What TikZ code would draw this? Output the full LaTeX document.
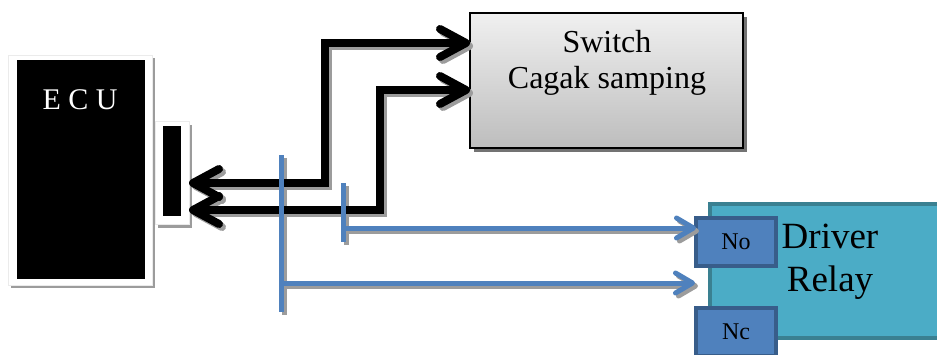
\documentclass[tikz,border=0pt]{standalone}
\usepackage{fontspec}
\setmainfont{Liberation Serif}
\usetikzlibrary{arrows.meta,shadows}
\definecolor{swtop}{HTML}{F0F0F0}
\definecolor{swbot}{HTML}{BDBDBD}
\definecolor{relayfill}{HTML}{4BACC6}
\definecolor{relayedge}{HTML}{3A8091}
\definecolor{nofill}{HTML}{4F81BD}
\definecolor{noedge}{HTML}{385D8A}
\definecolor{wire}{HTML}{4F81BD}
\definecolor{shadowc}{HTML}{9C9C9C}
\newcommand\wirelines{%
  \draw[blk, shcol] (connframe.east |- k2) -- (k2) -- (k1) -- (sw.west |- k1);
  \draw[blk, shcol] (connframe.east |- k4) -- (k4) -- (k3) -- (sw.west |- k3);
  \draw[blv, shcol] (v1t) -- (v1b);
  \draw[blv, shcol] (v2t) -- (v2b);
  \draw[bl, shcol] (h1) -- (no.west |- h1);
  \draw[bl, shcol] (h2) -- (h2e);
}
\begin{document}
\begin{tikzpicture}[x=1pt,y=-1pt,
  box/.style={rectangle, inner sep=0pt, outer sep=0pt},
  boxshadow/.style={drop shadow={shadow xshift=3pt, shadow yshift=-3pt, fill=shadowc, opacity=1}},
  shcol/.style={},
  blk/.style={line width=8pt, line join=miter, draw=black,
    {Straight Barb[length=26pt 0 0, width=28pt 0 0, round]}-{Straight Barb[length=26pt 0 0, width=28pt 0 0, round]}},
  bl/.style={line width=5pt, draw=wire,
    -{Straight Barb[length=17pt 0 0, width=20pt 0 0, round]}},
  blv/.style={line width=5pt, draw=wire},
]
\useasboundingbox (0,0) rectangle (937,354);
\clip (0,0) rectangle (937,354);

% ECU
\node[box, minimum width=144pt, minimum height=230pt, fill=white, draw=black!8, boxshadow] (ecuframe) at (80,170) {};
\node[box, minimum width=128pt, minimum height=219pt, fill=black] (ecu) at (80.5,169.5) {};
\node[font=\fontsize{30}{34}\selectfont, text=white, inner sep=0pt] (ecutext) at (80,100) {E C U};

% connector block
\node[box, minimum width=34pt, minimum height=103pt, fill=white, draw=black!8, boxshadow] (connframe) at (172,173) {};
\node[box, minimum width=18pt, minimum height=90pt, fill=black] (conn) at (172,171) {};

% Switch
\node[box, minimum width=273pt, minimum height=135pt, top color=swtop, bottom color=swbot, draw=black, line width=2pt,
  drop shadow={shadow xshift=4pt, shadow yshift=-4pt, fill=black!55, opacity=1}] (sw) at (606.5,80.5) {};
\node[font=\fontsize{32}{36.5}\selectfont, align=center, inner sep=0pt] (swtext) at (607,63) {Switch\\Cagak samping};

% Driver relay
\node[box, minimum width=232pt, minimum height=134pt, fill=relayfill, draw=relayedge, line width=4pt] (relay) at (826,271) {};
\node[font=\fontsize{37}{43}\selectfont, align=center, inner sep=0pt] (relaytext) at (830,262) {Driver\\Relay};
\node[box, minimum width=80pt, minimum height=48pt, fill=nofill, draw=noedge, line width=4pt, font=\fontsize{24}{28}\selectfont] (no) at (736,242) {No};
\node[box, minimum width=80pt, minimum height=48pt, fill=nofill, draw=noedge, line width=4pt, font=\fontsize{24}{28}\selectfont] (nc) at (736,332) {Nc};

% connector points
\coordinate (k1) at (325,43);
\coordinate (k2) at (325,183);
\coordinate (k3) at (380,90);
\coordinate (k4) at (380,210);
\coordinate (v1t) at (281,155);
\coordinate (v1b) at (281,312);
\coordinate (v2t) at (343,183);
\coordinate (v2b) at (343,242);
\coordinate (h1) at (343,228);
\coordinate (h2) at (281,283);
\coordinate (h2e) at (695,283);

% shadows of the connectors
\begin{scope}[transform canvas={shift={(3pt,-3pt)}}, shcol/.style={draw=shadowc}]
\wirelines
\end{scope}
% connectors
\wirelines
\end{tikzpicture}
\end{document}
